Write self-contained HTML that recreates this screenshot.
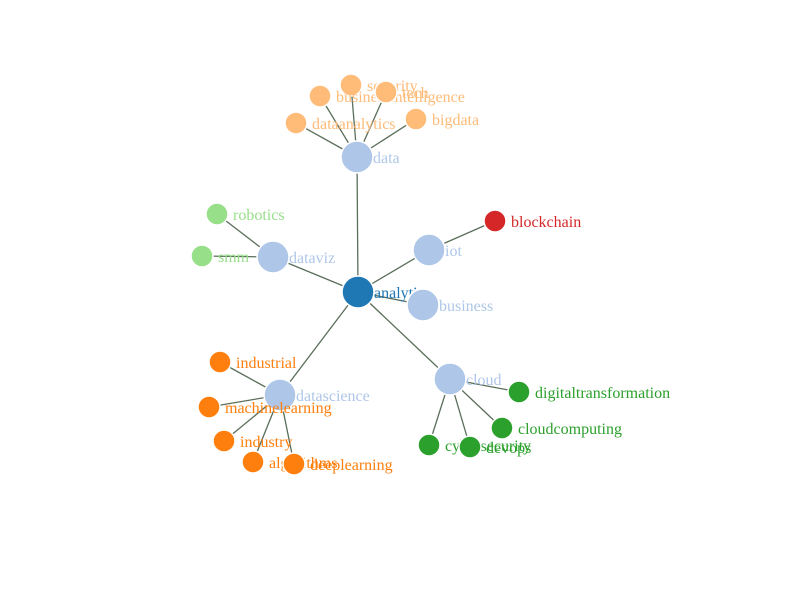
<!DOCTYPE html>
<html><head><style>body{margin:0;background:#fff}svg{display:block}text{font-family:"Liberation Serif",serif;font-size:16px}</style></head><body>
<svg width="798" height="608" xmlns="http://www.w3.org/2000/svg">
<g stroke="#5a6e5a" stroke-width="1.3">
<line x1="358" y1="292" x2="357" y2="157"/>
<line x1="358" y1="292" x2="273" y2="257"/>
<line x1="358" y1="292" x2="429" y2="250"/>
<line x1="358" y1="292" x2="423" y2="305"/>
<line x1="358" y1="292" x2="280" y2="395"/>
<line x1="358" y1="292" x2="450" y2="379"/>
<line x1="357" y1="157" x2="351" y2="85"/>
<line x1="357" y1="157" x2="320" y2="96"/>
<line x1="357" y1="157" x2="386" y2="92"/>
<line x1="357" y1="157" x2="296" y2="123"/>
<line x1="357" y1="157" x2="416" y2="119"/>
<line x1="273" y1="257" x2="217" y2="214"/>
<line x1="273" y1="257" x2="202" y2="256"/>
<line x1="429" y1="250" x2="495" y2="221"/>
<line x1="280" y1="395" x2="220" y2="362"/>
<line x1="280" y1="395" x2="209" y2="407"/>
<line x1="280" y1="395" x2="224" y2="441"/>
<line x1="280" y1="395" x2="253" y2="462"/>
<line x1="280" y1="395" x2="294" y2="464"/>
<line x1="450" y1="379" x2="519" y2="392"/>
<line x1="450" y1="379" x2="502" y2="428"/>
<line x1="450" y1="379" x2="429" y2="445"/>
<line x1="450" y1="379" x2="470" y2="447"/>
</g>
<g stroke="#fff" stroke-width="1.5">
<circle cx="358" cy="292" r="16" fill="#1f77b4"/><text x="374" y="298" fill="#1f77b4" stroke="none">analytics</text>
<circle cx="357" cy="157" r="16" fill="#aec7e8"/><text x="373" y="163" fill="#aec7e8" stroke="none">data</text>
<circle cx="273" cy="257" r="16" fill="#aec7e8"/><text x="289" y="263" fill="#aec7e8" stroke="none">dataviz</text>
<circle cx="429" cy="250" r="16" fill="#aec7e8"/><text x="445" y="256" fill="#aec7e8" stroke="none">iot</text>
<circle cx="423" cy="305" r="16" fill="#aec7e8"/><text x="439" y="311" fill="#aec7e8" stroke="none">business</text>
<circle cx="280" cy="395" r="16" fill="#aec7e8"/><text x="296" y="401" fill="#aec7e8" stroke="none">datascience</text>
<circle cx="450" cy="379" r="16" fill="#aec7e8"/><text x="466" y="385" fill="#aec7e8" stroke="none">cloud</text>
<g fill="#ffbb78"><circle cx="351" cy="85" r="11"/><text x="367" y="91" stroke="none">security</text>
<circle cx="320" cy="96" r="11"/><text x="336" y="102" stroke="none">businessintelligence</text>
<circle cx="386" cy="92" r="11"/><text x="402" y="98" stroke="none">tech</text>
<circle cx="296" cy="123" r="11"/><text x="312" y="129" stroke="none">dataanalytics</text>
<circle cx="416" cy="119" r="11"/><text x="432" y="125" stroke="none">bigdata</text></g>
<g fill="#98df8a"><circle cx="217" cy="214" r="11"/><text x="233" y="220" stroke="none">robotics</text>
<circle cx="202" cy="256" r="11"/><text x="218" y="262" stroke="none">smm</text></g>
<g fill="#d62728"><circle cx="495" cy="221" r="11"/><text x="511" y="227" stroke="none">blockchain</text></g>
<g fill="#ff7f0e"><circle cx="220" cy="362" r="11"/><text x="236" y="368" stroke="none">industrial</text>
<circle cx="209" cy="407" r="11"/><text x="225" y="413" stroke="none">machinelearning</text>
<circle cx="224" cy="441" r="11"/><text x="240" y="447" stroke="none">industry</text>
<circle cx="253" cy="462" r="11"/><text x="269" y="468" stroke="none">algorithms</text>
<circle cx="294" cy="464" r="11"/><text x="310" y="470" stroke="none">deeplearning</text></g>
<g fill="#2ca02c"><circle cx="519" cy="392" r="11"/><text x="535" y="398" stroke="none">digitaltransformation</text>
<circle cx="502" cy="428" r="11"/><text x="518" y="434" stroke="none">cloudcomputing</text>
<circle cx="429" cy="445" r="11"/><text x="445" y="451" stroke="none">cybersecurity</text>
<circle cx="470" cy="447" r="11"/><text x="486" y="453" stroke="none">devops</text></g>
</g>
</svg>
</body></html>
